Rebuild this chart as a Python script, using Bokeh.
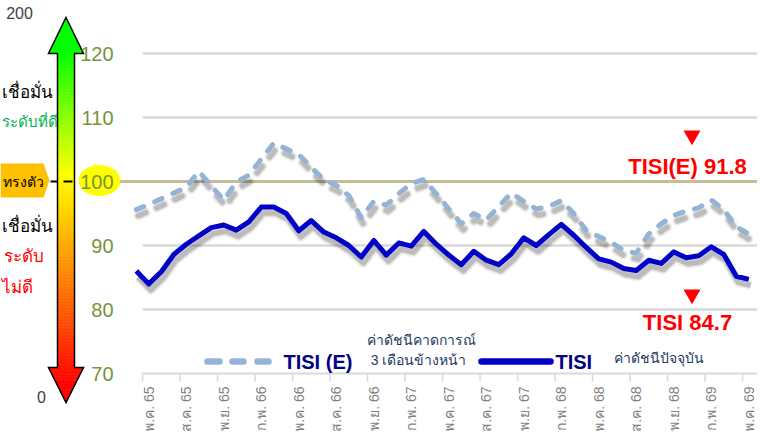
import math
from bokeh.plotting import figure
from bokeh.core.properties import value
from bokeh.embed import file_html
from bokeh.resources import INLINE

# ---------------- data ----------------
months = [
    "เม.ย. 65", "พ.ค. 65", "มิ.ย. 65", "ก.ค. 65", "ส.ค. 65", "ก.ย. 65", "ต.ค. 65", "พ.ย. 65", "ธ.ค. 65",
    "ม.ค. 66", "ก.พ. 66", "มี.ค. 66", "เม.ย. 66", "พ.ค. 66", "มิ.ย. 66", "ก.ค. 66", "ส.ค. 66", "ก.ย. 66",
    "ต.ค. 66", "พ.ย. 66", "ธ.ค. 66",
    "ม.ค. 67", "ก.พ. 67", "มี.ค. 67", "เม.ย. 67", "พ.ค. 67", "มิ.ย. 67", "ก.ค. 67", "ส.ค. 67", "ก.ย. 67",
    "ต.ค. 67", "พ.ย. 67", "ธ.ค. 67",
    "ม.ค. 68", "ก.พ. 68", "มี.ค. 68", "เม.ย. 68", "พ.ค. 68", "มิ.ย. 68", "ก.ค. 68", "ส.ค. 68", "ก.ย. 68",
    "ต.ค. 68", "พ.ย. 68", "ธ.ค. 68",
    "ม.ค. 69", "ก.พ. 69", "มี.ค. 69", "เม.ย. 69", "พ.ค. 69",
]
tisi = [
    86.0, 84.0, 85.9, 88.6, 90.2, 91.5, 92.8, 93.2, 92.4,
    93.7, 96.0, 96.0, 95.0, 92.3, 93.9, 92.1, 91.2, 90.0,
    88.2, 90.8, 88.5,
    90.4, 89.9, 92.2, 90.2, 88.5, 87.0, 89.1, 87.7, 87.0,
    88.7, 91.2, 90.0,
    91.7, 93.3, 91.6, 89.7, 87.9, 87.4, 86.4, 86.1, 87.7,
    87.2, 89.0, 88.1,
    88.4, 89.8, 88.6, 85.2, 84.7,
]
tisi_e = [
    95.6, 96.4, 97.3, 98.2, 99.1, 101.6, 99.3, 97.1, 99.9,
    101.0, 103.5, 106.0, 105.1, 104.2, 102.2, 100.3, 99.4, 97.8,
    94.3, 96.9, 96.3,
    98.1, 99.7, 100.3, 98.1, 95.7, 93.4, 95.0, 94.0, 96.1,
    98.2, 96.9, 95.7,
    96.1, 97.0, 95.0, 92.3, 91.4, 90.5, 89.2, 88.8, 91.8,
    93.4, 94.7, 95.4,
    95.9, 97.1, 95.6, 92.9, 91.8,
]
y_ticks = [70, 80, 90, 100, 110, 120]
label_step = 3
label_first = 1

x = list(range(len(months)))

# ------------- pixel helpers (layout only) -------------
PDX = 12.5                  # pixels per month
PX0 = 148.3 - PDX           # pixel of month index 0
PY70, PDY = 373.0, 6.4      # pixel of value 70, pixels per unit
W, H = 757, 431


def xd(X):
    return (X - PX0) / PDX


def yd(Y):
    return 70 + (PY70 - Y) / PDY


FONT = value("Liberation Sans, Arial, sans-serif")

p = figure(width=W, height=H, x_range=(xd(0), xd(W)), y_range=(yd(H), yd(0)),
           x_axis_location=None, y_axis_location=None, toolbar_location=None,
           output_backend="svg", min_border=0, outline_line_color=None,
           background_fill_color="white", border_fill_color="white")
p.grid.visible = False
x_end = xd(W + 20)

# ------------- gradient arrow on the left -------------
CX = 65.5


def grad(Y):
    if Y <= 50:
        r, g = 0, 255
    elif Y <= 175:
        r, g = 255 * (Y - 50) / 125, 255
    elif Y <= 385:
        r, g = 255, 255 * (385 - Y) / 210
    else:
        r, g = 255, 0
    return "#%02x%02x00" % (int(round(r)), int(round(g)))


axs, ays, acol = [], [], []


def add_region(Ya, Yb, n, hwf):
    for k in range(n):
        y0 = Ya + (Yb - Ya) * k / n
        y1 = Ya + (Yb - Ya) * (k + 1) / n
        h0, h1 = hwf(y0), hwf(y1)
        axs.append([xd(CX - h0), xd(CX + h0), xd(CX + h1), xd(CX - h1)])
        ays.append([yd(y0), yd(y0), yd(y1), yd(y1)])
        acol.append(grad((y0 + y1) / 2))


add_region(17, 53, 24, lambda Y: 17.5 * (Y - 17) / 36)
add_region(53, 367, 210, lambda Y: 8.5)
add_region(367, 402, 24, lambda Y: 17.5 * (402 - Y) / 35)
p.patches(axs, ays, fill_color=acol, line_color=acol, line_width=0.7)
outline = [(CX, 17), (CX + 17.5, 53), (CX + 8.5, 53), (CX + 8.5, 367), (CX + 17.5, 367), (CX, 402),
           (CX - 17.5, 367), (CX - 8.5, 367), (CX - 8.5, 53), (CX - 17.5, 53)]
p.patch([xd(a) for a, b in outline], [yd(b) for a, b in outline], fill_color=None,
        line_color="black", line_width=1.5, line_join="miter")
# dashed marker at 100
p.segment(x0=[xd(50), xd(63)], y0=[100, 100], x1=[xd(57), xd(72)], y1=[100, 100],
          line_color="black", line_width=2)

# left texts
p.text(x=[xd(19)], y=[yd(12)], text=["200"], text_font=FONT, text_font_size="16px",
       text_color="#404040", text_align="center", text_baseline="middle")
p.text(x=[xd(41)], y=[yd(396)], text=["0"], text_font=FONT, text_font_size="16px",
       text_color="#404040", text_align="center", text_baseline="middle")
p.text(x=[xd(1), xd(1)], y=[yd(92), yd(226)], text=["เชื่อมั่น", "เชื่อมั่น"],
       text_font=FONT, text_font_size="17px", text_color="black",
       text_align="left", text_baseline="middle")
p.text(x=[xd(1)], y=[yd(121)], text=["ระดับที่ดี"], text_font=FONT, text_font_size="15px",
       text_color="#00B050", text_align="left", text_baseline="middle")
p.text(x=[xd(43), xd(1)], y=[yd(256), yd(287)], text=["ระดับ", "ไม่ดี"], text_font=FONT,
       text_font_size="17px", text_color="#FF0000", text_align=["right", "left"],
       text_baseline="middle")
tag = [(0, 163), (43, 163), (49, 180), (43, 197), (0, 197)]
p.patch([xd(a) for a, b in tag], [yd(b) for a, b in tag], fill_color="#FFC000", line_color=None)
p.text(x=[xd(2)], y=[yd(181)], text=["ทรงตัว"], text_font=FONT, text_font_size="14px",
       text_color="black", text_align="left", text_baseline="middle")

# ------------- grid / axes -------------
grid_vals = [v for v in y_ticks if v not in (70, 100)]
p.segment(x0=[xd(142)] * len(grid_vals), x1=[x_end] * len(grid_vals), y0=grid_vals, y1=grid_vals,
          line_color="#d9d9d9", line_width=2.5)
p.segment(x0=[xd(142)], x1=[x_end], y0=[70], y1=[70], line_color="#d9d9d9", line_width=2)
p.segment(x0=[xd(118)], x1=[x_end], y0=[100], y1=[100], line_color="#c4bd97", line_width=3)

label_idx = x[label_first::label_step]
tick_pos = [i - 0.5 for i in label_idx]
p.segment(x0=tick_pos, x1=tick_pos, y0=[70] * len(tick_pos), y1=[yd(381)] * len(tick_pos),
          line_color="#d9d9d9", line_width=1.5)
p.text(x=label_idx, y=[yd(386)] * len(label_idx), text=[months[i] for i in label_idx],
       angle=math.pi / 2, text_font=FONT, text_font_size="14px", text_color="#7f7f7f",
       text_align="right", text_baseline="middle")

# y labels
p.ellipse(x=[xd(99)], y=[yd(180)], width=42 / PDX, height=31 / PDY, fill_color="#FFFF00",
          line_color=None)
p.text(x=[xd(113)] * len(y_ticks), y=y_ticks, text=[str(v) for v in y_ticks], text_font=FONT,
       text_font_size="20px", text_color="#77933C", text_align="right", text_baseline="middle")

# ------------- series with shadow -------------
sdx, sdy = 2 / PDX, -6 / PDY
for w, a in ((10, 0.06), (7, 0.10), (5, 0.12)):
    p.line([i + sdx for i in x], [v + sdy for v in tisi_e], line_color="black", line_alpha=a,
           line_width=w, line_dash="8 12", line_cap="round", line_join="round")
    p.line([i + sdx for i in x], [v + sdy for v in tisi], line_color="black", line_alpha=a,
           line_width=w, line_join="round")
p.line(x, tisi_e, line_color="#95B3D7", line_width=5, line_dash="8 12", line_cap="round",
       line_join="round")
p.line(x, tisi, line_color="#0000C8", line_width=5, line_join="round")

# ------------- legend (drawn) -------------
p.segment(x0=[xd(207), xd(232), xd(257)], x1=[xd(219), xd(243), xd(268)],
          y0=[yd(361)] * 3, y1=[yd(361)] * 3, line_color="#95B3D7", line_width=6.5, line_cap="round")
p.segment(x0=[xd(481)], x1=[xd(550)], y0=[yd(361)], y1=[yd(361)], line_color="#0000C8",
          line_width=6.5, line_cap="round")
p.text(x=[xd(283), xd(555)], y=[yd(361), yd(361)], text=["TISI (E)", "TISI"], text_font=FONT,
       text_font_size="20px", text_font_style="bold", text_color="#00008B",
       text_align="left", text_baseline="middle")
p.text(x=[xd(421), xd(418), xd(613)], y=[yd(339), yd(359), yd(357)],
       text=["ค่าดัชนีคาดการณ์", "3 เดือนข้างหน้า", "ค่าดัชนีปัจจุบัน"], text_font=FONT,
       text_font_size="14px", text_color="#1F3864", text_align=["center", "center", "left"],
       text_baseline="middle")

# ------------- latest value call-outs -------------
p.scatter(x=[xd(691.5), xd(691.5)], y=[yd(135), yd(294)], marker="inverted_triangle", size=17,
          fill_color="#FF0000", line_color=None)
p.text(x=[xd(687), xd(687)], y=[yd(166), yd(322)],
       text=[f"TISI(E) {tisi_e[-1]}", f"TISI {tisi[-1]}"], text_font=FONT, text_font_size="22px",
       text_font_style="bold", text_color="#FF0000", text_align="center", text_baseline="middle")

open("out.html", "w").write(file_html(p, INLINE))
